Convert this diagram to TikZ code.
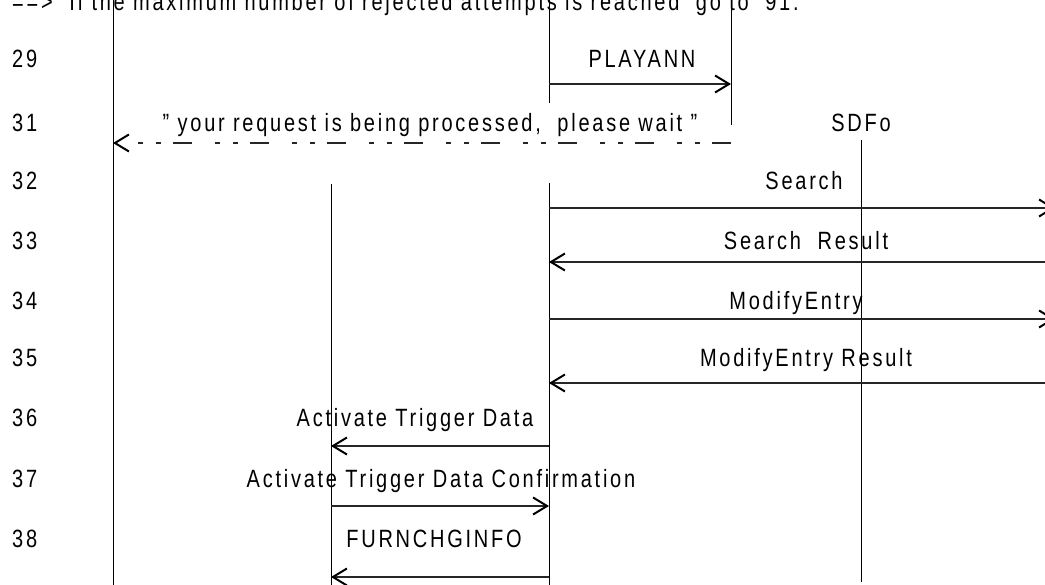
\documentclass[tikz,border=0pt]{standalone}
\usepackage{fontspec}
\setmainfont{Liberation Sans}[FakeStretch=0.8,LetterSpace=11]
\usetikzlibrary{arrows.meta}
\begin{document}
\begin{tikzpicture}[x=1pt,y=-1pt,
  font=\fontsize{25}{30}\selectfont,
  life/.style={line width=1pt},
  msg/.style={line width=1.1pt,draw=black!85,-{Straight Barb[length=14pt,width=17pt,line width=2pt,color=black]}},
  dmsg/.style={msg,dash pattern=on 19pt off 12pt on 5pt off 13pt on 5pt off 23pt},
  lbl/.style={anchor=base,inner sep=0pt},
  num/.style={anchor=base west,inner sep=0pt}]
\useasboundingbox (0,0) rectangle (1045,585);
\clip (0,0) rectangle (1045,585);
% title
\node[num] (title) at (12,11) {==>\ \ If the maximum number of rejected attempts is reached\ \ go to\ \ 91.};
% lifelines
\coordinate (A0) at (113,0);   \coordinate (A1) at (113,585);
\coordinate (B0) at (331,184); \coordinate (B1) at (331,585);
\coordinate (C0) at (549,0);   \coordinate (C1) at (549,103);
\coordinate (C2) at (549,183); \coordinate (C3) at (549,585);
\coordinate (D0) at (731,0);   \coordinate (D1) at (731,125);
\coordinate (S0) at (861,140); \coordinate (S1) at (861,582);
\draw[life] (A0) -- (A1);
\draw[life] (B0) -- (B1);
\draw[life] (C0) -- (C1);
\draw[life] (C2) -- (C3);
\draw[life] (D0) -- (D1);
\draw[life] (S0) -- (S1);
\node[lbl] (sdfo) at (861,132) {SDFo};
% row numbers
\node[num] (n29) at (12,68) {29};
\node[num] (n31) at (12,132) {31};
\node[num] (n32) at (12,190) {32};
\node[num] (n33) at (12,250) {33};
\node[num] (n34) at (12,310) {34};
\node[num] (n35) at (12,367) {35};
\node[num] (n36) at (12,427) {36};
\node[num] (n37) at (12,487) {37};
\node[num] (n38) at (12,547) {38};
% message end points
\coordinate (m29a) at (549,84);  \coordinate (m29b) at (731,84);
\coordinate (m31a) at (731,143); \coordinate (m31b) at (113,143);
\coordinate (m32a) at (549,208); \coordinate (m32b) at (1055,208);
\coordinate (m33a) at (1045,262);\coordinate (m33b) at (549,262);
\coordinate (m34a) at (549,319); \coordinate (m34b) at (1055,319);
\coordinate (m35a) at (1045,383);\coordinate (m35b) at (549,383);
\coordinate (m36a) at (549,446); \coordinate (m36b) at (331,446);
\coordinate (m37a) at (331,506); \coordinate (m37b) at (549,506);
\coordinate (m38a) at (549,577); \coordinate (m38b) at (331,577);
\draw[msg] (m29a) -- (m29b);
\draw[dmsg] (m31a) -- (m31b);
\draw[msg] (m32a) -- (m32b);
\draw[msg] (m33a) -- (m33b);
\draw[msg] (m34a) -- (m34b);
\draw[msg] (m35a) -- (m35b);
\draw[msg] (m36a) -- (m36b);
\draw[msg] (m37a) -- (m37b);
\draw[msg] (m38a) -- (m38b);
% labels
\node[lbl] (l29) at (642,68) {PLAYANN};
\node[lbl] (l31) at (430,132) {"\ your request is being processed,\ \ please wait\ "};
\node[lbl] (l32) at (804,190) {Search};
\node[lbl] (l33) at (806,250) {Search\ \ Result};
\node[lbl] (l34) at (796,310) {ModifyEntry};
\node[lbl] (l35) at (806,367) {ModifyEntry Result};
\node[lbl] (l36) at (415,427) {Activate Trigger Data};
\node[lbl] (l37) at (441,487) {Activate Trigger Data Confirmation};
\node[lbl] (l38) at (434,547) {FURNCHGINFO};
\end{tikzpicture}
\end{document}
